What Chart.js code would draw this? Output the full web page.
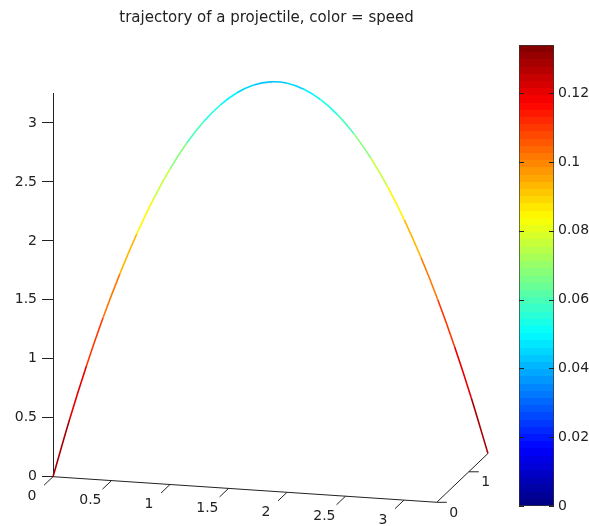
<!DOCTYPE html>
<html>
<head>
<meta charset="utf-8">
<script src="https://cdn.jsdelivr.net/npm/chart.js@4.4.1/dist/chart.umd.min.js"></script>
<style>
  html, body { margin: 0; padding: 0; background: #fff; }
  #wrap { position: relative; width: 589px; height: 526px; }
  #main { position: absolute; left: 0; top: 0; }
  #cbar { position: absolute; left: 500px; top: 0; }
</style>
</head>
<body>
<div id="wrap">
  <canvas id="main" width="589" height="526"></canvas>
  <canvas id="cbar" width="89" height="526"></canvas>
</div>
<script>
// trajectory samples (x, depth y, height z, speed)
const trajX = [0, 0.126, 0.252, 0.378, 0.505, 0.631, 0.757, 0.883, 1.009, 1.135, 1.262, 1.388, 1.514, 1.640,
               1.766, 1.892, 2.018, 2.145, 2.271, 2.397, 2.523, 2.649, 2.775, 2.902, 3.028, 3.154, 3.280]
const trajY = [0, 0.062, 0.123, 0.185, 0.246, 0.308, 0.369, 0.431, 0.492, 0.554, 0.615, 0.677, 0.738, 0.800,
               0.862, 0.923, 0.985, 1.046, 1.108, 1.169, 1.231, 1.292, 1.354, 1.415, 1.477, 1.538, 1.600]
const trajZ = [0, 0.481, 0.923, 1.327, 1.692, 2.019, 2.308, 2.558, 2.769, 2.942, 3.077, 3.173, 3.231, 3.250,
               3.231, 3.173, 3.077, 2.942, 2.769, 2.558, 2.308, 2.019, 1.692, 1.327, 0.923, 0.481, 0]
const trajSpeed = [0.133, 0.124, 0.115, 0.106, 0.097, 0.088, 0.080, 0.072, 0.064, 0.057, 0.051, 0.046, 0.043, 0.042,
                   0.043, 0.046, 0.051, 0.057, 0.064, 0.072, 0.080, 0.088, 0.097, 0.106, 0.115, 0.124, 0.133]

// axes
const xLimits = [0, 3.28]
const yLimits = [0, 1.6]
const zLimits = [0, 3.25]
const xTicks = [0, 0.5, 1, 1.5, 2, 2.5, 3]
const yTicks = [0, 1]
const zTicks = [0, 0.5, 1, 1.5, 2, 2.5, 3]
const cbLimits = [0, 0.134]
const cbTicks = [0, 0.02, 0.04, 0.06, 0.08, 0.1, 0.12]

const TITLE = 'trajectory of a projectile, color = speed'
const FONT = '"DejaVu Sans", sans-serif'
const INK = '#222'

// view: pixels per data unit along each 3D axis
const VIEW = { xu: 117, xv: -7.8, yu: 32, yv: 30.5, zv: 117.9 }
const PX = VIEW.zv

function project(X, Y, Z) {
  return {
    x: (X * VIEW.xu + Y * VIEW.yu) / PX,
    y: (Z * VIEW.zv + X * VIEW.xv + Y * VIEW.yv) / PX
  }
}

function jet(f) {
  let k = Math.floor(f * 64)
  k = Math.max(0, Math.min(63, k))
  const t = (k + 0.5) / 64
  const c = v => Math.round(255 * Math.max(0, Math.min(1, v)))
  const r = c(1.5 - Math.abs(4 * t - 3))
  const g = c(1.5 - Math.abs(4 * t - 2))
  const b = c(1.5 - Math.abs(4 * t - 1))
  return `rgb(${r},${g},${b})`
}

function keepTicks(list) {
  return scale => {
    scale.ticks = list.map(v => ({ value: v }))
  }
}

// slanted x axis and depth axis, drawn through the chart's scales
const axes3d = {
  id: 'axes3d',
  beforeDatasetsDraw(chart) {
    const { ctx, scales } = chart
    const pt = (X, Y, Z) => {
      const p = project(X, Y, Z)
      return [scales.x.getPixelForValue(p.x), scales.y.getPixelForValue(p.y)]
    }
    const line = (a, b) => {
      ctx.beginPath()
      ctx.moveTo(a[0], a[1])
      ctx.lineTo(b[0], b[1])
      ctx.stroke()
    }
    ctx.save()
    ctx.strokeStyle = INK
    ctx.lineWidth = 1
    ctx.fillStyle = INK
    ctx.font = '14px ' + FONT
    ctx.textAlign = 'center'
    ctx.textBaseline = 'middle'

    line(pt(xLimits[0], 0, 0), pt(xLimits[1], 0, 0))
    xTicks.forEach(t => {
      line(pt(t, 0, 0), pt(t, -0.28, 0))
      const l = pt(t, -0.66, 0)
      ctx.fillText(String(t), l[0], l[1])
    })

    line(pt(xLimits[1], yLimits[0], 0), pt(xLimits[1], yLimits[1], 0))
    yTicks.forEach(t => {
      const a = pt(xLimits[1], t, 0)
      line(a, [a[0] + 10, a[1]])
      ctx.fillText(String(t), a[0] + 17, a[1] + 11)
    })
    ctx.restore()
  }
}

const points = trajX.map((x, i) => project(x, trajY[i], trajZ[i]))

new Chart(document.getElementById('main'), {
  type: 'scatter',
  data: {
    datasets: [{
      data: points,
      showLine: true,
      pointRadius: 0,
      borderWidth: 1.6,
      tension: 0.35,
      clip: false,
      borderColor: jet(0.5),
      segment: {
        borderColor: c => jet((trajSpeed[c.p0DataIndex] + trajSpeed[c.p1DataIndex]) / 2 / cbLimits[1])
      }
    }]
  },
  options: {
    responsive: false,
    animation: false,
    layout: { padding: { left: 0, right: 56, top: 0, bottom: 49.3 } },
    scales: {
      x: { type: 'linear', display: false, min: 0, max: (589 - 56 - 53) / PX },
      y: {
        min: zLimits[0],
        max: zLimits[1],
        afterFit: s => { s.width = 53 },
        afterBuildTicks: keepTicks(zTicks),
        grid: { drawOnChartArea: false, tickLength: 11, color: INK },
        border: { color: INK },
        ticks: { padding: 5, color: INK, font: { family: FONT, size: 14 }, callback: v => String(v) }
      }
    },
    plugins: {
      legend: { display: false },
      tooltip: { enabled: false },
      title: {
        display: true,
        text: TITLE,
        color: INK,
        font: { family: FONT, size: 15, weight: 'normal', lineHeight: 1.2 },
        padding: { top: 9, bottom: 66.5 }
      }
    }
  },
  plugins: [axes3d]
})

// colorbar
const cbarTicks = {
  id: 'cbarTicks',
  afterDatasetsDraw(chart) {
    const { ctx, chartArea, scales } = chart
    ctx.save()
    ctx.strokeStyle = INK
    ctx.lineWidth = 1
    cbTicks.forEach(t => {
      const y = Math.round(scales.y.getPixelForValue(t)) + 0.5
      ctx.beginPath()
      ctx.moveTo(chartArea.left, y); ctx.lineTo(chartArea.left + 5, y)
      ctx.moveTo(chartArea.right, y); ctx.lineTo(chartArea.right - 5, y)
      ctx.stroke()
    })
    ctx.restore()
  }
}

new Chart(document.getElementById('cbar'), {
  type: 'bar',
  data: {
    labels: [''],
    datasets: [{
      data: [cbLimits],
      backgroundColor: c => {
        const ch = c.chart
        if (!ch.chartArea) return jet(0.5)
        const y0 = ch.scales.y.getPixelForValue(cbLimits[0])
        const y1 = ch.scales.y.getPixelForValue(cbLimits[1])
        const g = ch.ctx.createLinearGradient(0, y0, 0, y1)
        for (let k = 0; k < 64; k++) {
          const col = jet((k + 0.5) / 64)
          g.addColorStop(k / 64, col)
          g.addColorStop((k + 1) / 64, col)
        }
        return g
      },
      borderColor: '#333',
      borderWidth: 1,
      borderSkipped: false,
      barPercentage: 1,
      categoryPercentage: 1
    }]
  },
  options: {
    responsive: false,
    animation: false,
    layout: { padding: { left: 19, right: 0, top: 45, bottom: 20 } },
    scales: {
      x: { display: false },
      y: {
        position: 'right',
        min: cbLimits[0],
        max: cbLimits[1],
        afterFit: s => { s.width = 35 },
        afterBuildTicks: keepTicks(cbTicks),
        grid: { display: false, drawTicks: false },
        border: { display: false },
        ticks: { padding: 4, color: INK, font: { family: FONT, size: 14 }, callback: v => String(v) }
      }
    },
    plugins: { legend: { display: false }, tooltip: { enabled: false } }
  },
  plugins: [cbarTicks]
})
</script>
</body>
</html>
